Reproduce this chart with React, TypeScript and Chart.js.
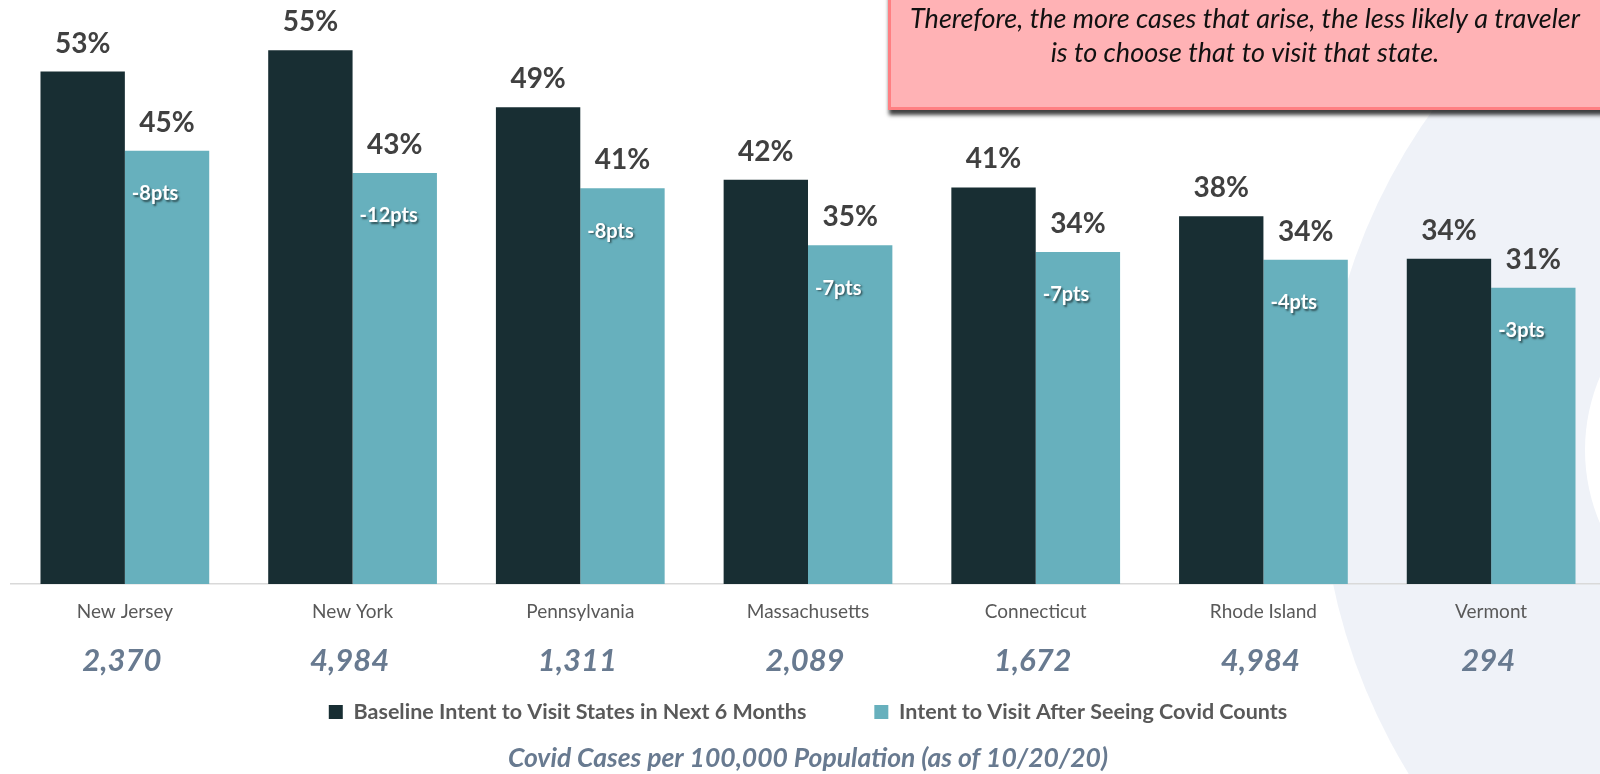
import React, { useEffect, useRef } from 'react';
import { Chart, registerables } from 'chart.js';

Chart.register(...registerables);

// ---- data ----
const states = ['New Jersey', 'New York', 'Pennsylvania', 'Massachusetts', 'Connecticut', 'Rhode Island', 'Vermont'];
const casesPer100k = ['2,370', '4,984', '1,311', '2,089', '1,672', '4,984', '294'];
const baselineIntent = [53.1, 55.3, 49.4, 41.9, 41.1, 38.1, 33.7];
const afterCovidIntent = [44.9, 42.6, 41.0, 35.1, 34.4, 33.6, 30.7];
const seriesNames = [
  'Baseline Intent to Visit States in Next 6 Months',
  'Intent to Visit After Seeing Covid Counts',
];
const calloutLines = [
  'Therefore, the more cases that arise, the less likely a traveler',
  'is to choose that to visit that state.',
];
const footTitle = 'Covid Cases per 100,000 Population (as of 10/20/20)';

const FONT = 'Lato, "Open Sans", sans-serif';
const DARK = '#182e33';
const TEAL = '#67b0bd';
const SLATE = '#687a90';

const bgPlugin = {
  id: 'bgDecor',
  beforeDraw(chart: any) {
    const { ctx, width, height } = chart;
    ctx.save();
    ctx.fillStyle = '#ffffff';
    ctx.fillRect(0, 0, width, height);
    ctx.fillStyle = '#eff2f8';
    ctx.beginPath();
    ctx.arc(1920, 460, 600, 0, Math.PI * 2);
    ctx.fill();
    ctx.fillStyle = '#ffffff';
    ctx.beginPath();
    ctx.ellipse(1800, 450, 215, 200, 0, 0, Math.PI * 2);
    ctx.fill();
    ctx.restore();
  },
};

const labelPlugin = {
  id: 'barLabels',
  afterDatasetsDraw(chart: any) {
    const ctx = chart.ctx;
    const metas = [chart.getDatasetMeta(0), chart.getDatasetMeta(1)];
    ctx.save();
    ctx.textAlign = 'center';
    ctx.textBaseline = 'middle';
    ctx.font = `bold 28px ${FONT}`;
    ctx.fillStyle = '#404040';
    metas.forEach((m: any, di: number) => {
      m.data.forEach((bar: any, i: number) => {
        const v = chart.data.datasets[di].data[i] as number;
        ctx.fillText(`${Math.round(v)}%`, bar.x, bar.y - 28);
      });
    });
    ctx.font = `bold 20px ${FONT}`;
    ctx.fillStyle = '#ffffff';
    ctx.textAlign = 'left';
    ctx.shadowColor = 'rgba(0,0,0,0.55)';
    ctx.shadowOffsetX = 1.5;
    ctx.shadowOffsetY = 1.5;
    ctx.shadowBlur = 2;
    metas[1].data.forEach((bar: any, i: number) => {
      const d = Math.round(afterCovidIntent[i]) - Math.round(baselineIntent[i]);
      ctx.fillText(`${d}pts`, bar.x - bar.width / 2 + 7, bar.y + 43);
    });
    ctx.restore();
  },
};

const casesPlugin = {
  id: 'casesRow',
  afterDraw(chart: any) {
    const ctx = chart.ctx;
    const xs = chart.scales.x;
    ctx.save();
    ctx.font = `italic bold 31px ${FONT}`;
    ctx.fillStyle = SLATE;
    ctx.textAlign = 'center';
    ctx.textBaseline = 'middle';
    casesPer100k.forEach((c, i) => {
      ctx.fillText(c, xs.getPixelForValue(i) - 3, 661);
    });
    ctx.restore();
  },
};

const calloutPlugin = {
  id: 'callout',
  afterDraw(chart: any) {
    const ctx = chart.ctx;
    ctx.save();
    ctx.shadowColor = 'rgba(0,0,0,0.75)';
    ctx.shadowBlur = 4;
    ctx.shadowOffsetX = 1;
    ctx.shadowOffsetY = 5;
    ctx.fillStyle = '#ffb2b5';
    ctx.fillRect(888, -30, 800, 140);
    ctx.shadowColor = 'transparent';
    ctx.shadowBlur = 0;
    ctx.shadowOffsetX = 0;
    ctx.shadowOffsetY = 0;
    ctx.strokeStyle = '#ff7f82';
    ctx.lineWidth = 3;
    ctx.strokeRect(889.5, -30, 800, 138.5);
    ctx.fillStyle = '#111111';
    ctx.font = `italic 27px ${FONT}`;
    ctx.textAlign = 'center';
    ctx.textBaseline = 'middle';
    ctx.fillText(calloutLines[0], 1245, 19);
    ctx.fillText(calloutLines[1], 1245, 53);
    ctx.restore();
  },
};

export default function App() {
  const ref = useRef<HTMLCanvasElement | null>(null);

  useEffect(() => {
    if (!ref.current) return;
    const chart = new Chart(ref.current, {
      type: 'bar',
      data: {
        labels: states,
        datasets: [
          {
            label: seriesNames[0],
            data: baselineIntent,
            backgroundColor: DARK,
            borderWidth: 0,
            categoryPercentage: 0.741,
            barPercentage: 1,
          },
          {
            label: seriesNames[1],
            data: afterCovidIntent,
            backgroundColor: TEAL,
            borderWidth: 0,
            categoryPercentage: 0.741,
            barPercentage: 1,
          },
        ],
      },
      options: {
        responsive: false,
        animation: false,
        devicePixelRatio: 1,
        layout: { padding: { left: 11, right: 0, top: 5, bottom: 0 } },
        plugins: {
          legend: {
            position: 'bottom',
            labels: {
              boxWidth: 14,
              boxHeight: 14,
              padding: 68,
              color: '#595959',
              font: { family: FONT, size: 21.5, weight: 'bold' },
            },
          },
          title: {
            display: true,
            position: 'bottom',
            text: footTitle,
            color: SLATE,
            font: { family: FONT, size: 26.5, weight: 'bold', style: 'italic', lineHeight: 1.2 },
            padding: { top: 9.35, bottom: 0.1 },
          },
          tooltip: { enabled: false },
        },
        scales: {
          x: {
            position: 'bottom',
            grid: { display: false, drawTicks: false },
            border: { display: true, color: '#d9d9d9', width: 1.5 },
            ticks: {
              color: '#595959',
              font: { family: FONT, size: 19, lineHeight: 1.2 },
              padding: 16.6,
              maxRotation: 0,
              autoSkip: false,
            },
            afterFit: (s: any) => {
              s.height = 49.25;
            },
          },
          y: { display: false, min: 0, max: 60 },
        },
      } as any,
      plugins: [bgPlugin, labelPlugin, casesPlugin, calloutPlugin],
    });
    return () => chart.destroy();
  }, []);

  return (
    <div
      style={{
        position: 'fixed',
        left: 0,
        top: 0,
        width: 1600,
        height: 774,
        overflow: 'hidden',
        background: '#ffffff',
      }}
    >
      <canvas ref={ref} width={1605} height={774} style={{ display: 'block' }} />
    </div>
  );
}
